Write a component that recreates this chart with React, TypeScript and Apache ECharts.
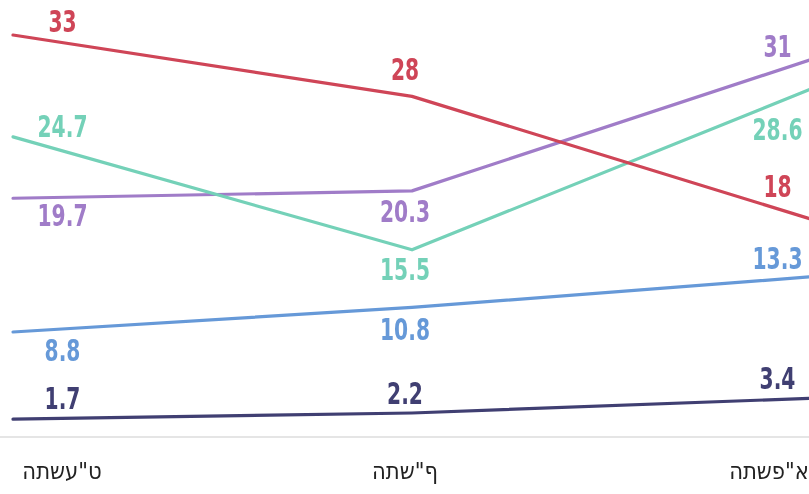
import React, { useEffect, useRef } from "react";
import * as echarts from "echarts";

const years = ['התשע"ט', 'התש"ף', 'התשפ"א'];
const redValues = [33, 28, 18];
const tealValues = [24.7, 15.5, 28.6];
const purpleValues = [19.7, 20.3, 31];
const blueValues = [8.8, 10.8, 13.3];
const navyValues = [1.7, 2.2, 3.4];

const colors: Record<string, string> = {
  red: "#cf4557",
  teal: "#74d1b8",
  purple: "#a07cc8",
  blue: "#6699d8",
  navy: "#403f72",
};

// label placement (styling)
const colShift = [49.5, -7, -33.5];
const labelDy: Record<string, number[]> = {
  red: [-13.5, -27, -33],
  teal: [-10.4, 19, 40],
  purple: [16.7, 20.6, -13.6],
  blue: [18, 21.5, -18.8],
  navy: [-20.6, -20, -19.8],
};

const valuesByName: Record<string, number[]> = {
  red: redValues,
  teal: tealValues,
  purple: purpleValues,
  blue: blueValues,
  navy: navyValues,
};

export default function App() {
  const ref = useRef<HTMLDivElement>(null);
  useEffect(() => {
    if (!ref.current) return;
    const chart = echarts.init(ref.current, null, { renderer: "svg" });
    const order = ["navy", "blue", "purple", "teal", "red"];
    const lineSeries = order.map((name) => ({
      name,
      type: "line",
      data: valuesByName[name],
      symbol: "none",
      showSymbol: false,
      lineStyle: { color: colors[name], width: 3.2, cap: "round", join: "round" },
      emphasis: { disabled: true },
      silent: true,
      z: 2,
    }));
    const labelSeries = order.map((name) => ({
      name: name + "-labels",
      type: "custom",
      silent: true,
      z: 3,
      clip: false,
      data: valuesByName[name].map((v, i) => [i, v]),
      renderItem: (params: any, api: any) => {
        const i = params.dataIndex;
        const pt = api.coord([api.value(0), api.value(1)]);
        return {
          type: "text",
          x: pt[0] + colShift[i],
          y: pt[1] + labelDy[name][i],
          scaleX: 0.75,
          scaleY: 1,
          style: {
            x: 0,
            y: 0,
            text: String(api.value(1)),
            fill: colors[name],
            align: "center",
            verticalAlign: "middle",
            fontFamily: "'DejaVu Sans Condensed', 'DejaVu Sans', sans-serif",
            fontWeight: "bold",
            fontSize: 30,
          },
        };
      },
    }));
    chart.setOption({
      animation: false,
      grid: {
        left: 13,
        right: -2,
        top: 10.5,
        bottom: 54,
        containLabel: false,
        outerBoundsMode: "none",
      },
      graphic: [
        {
          type: "line",
          silent: true,
          z: 0,
          shape: { x1: 0, y1: 437, x2: 809, y2: 437 },
          style: { stroke: "#dddddd", lineWidth: 1.5 },
        },
      ],
      xAxis: {
        type: "category",
        data: years,
        boundaryGap: false,
        offset: -3,
        axisLine: { show: false },
        axisTick: { show: false },
        splitLine: { show: false },
        axisLabel: {
          interval: 0,
          margin: 22,
          color: "#222222",
          fontFamily: "'DejaVu Sans Condensed', 'DejaVu Sans', sans-serif",
          fontSize: 23.5,
          formatter: (val: string, idx: number) => `{c${idx}|${val}}`,
          rich: {
            c0: { padding: [0, 0, 0, 98] },
            c1: { padding: [0, 14, 0, 0] },
            c2: { padding: [0, 84, 0, 0] },
          },
        },
      },
      yAxis: {
        type: "value",
        min: 0,
        max: 35,
        show: false,
        splitLine: { show: false },
      },
      series: [...lineSeries, ...labelSeries],
    });
    return () => chart.dispose();
  }, []);
  return (
    <>
      <style>{"#root svg text { unicode-bidi: bidi-override; direction: ltr; }"}</style>
      <div
        ref={ref}
        style={{ position: "fixed", left: 0, top: 0, width: 809, height: 494 }}
      />
    </>
  );
}
